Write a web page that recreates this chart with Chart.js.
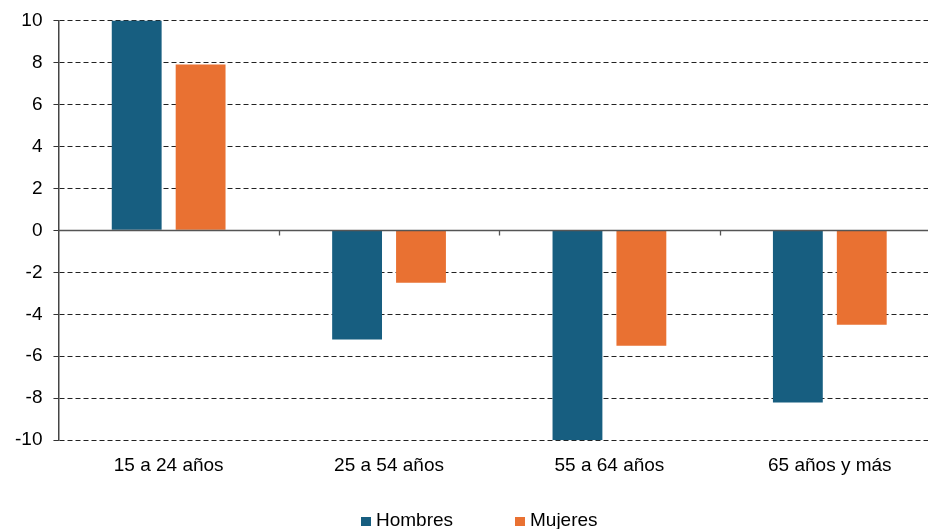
<!DOCTYPE html>
<html>
<head>
<meta charset="utf-8">
<script src="https://cdn.jsdelivr.net/npm/chart.js@4"></script>
<style>
html,body{margin:0;padding:0;background:#fff;overflow:hidden;}
#wrap{width:960px;height:529px;position:relative;}
.lg{position:absolute;font-family:'Liberation Sans',Arial,sans-serif;font-size:19px;line-height:19px;color:#000;white-space:nowrap;}
.sq{position:absolute;width:10px;height:9px;}
</style>
</head>
<body>
<div id="wrap">
  <canvas id="c"></canvas>
  <div id="legend"></div>
</div>
<script>
const categories = ["15 a 24 años", "25 a 54 años", "55 a 64 años", "65 años y más"];
const hombres = [10, -5.2, -10, -8.2];
const mujeres = [7.9, -2.5, -5.5, -4.5];
const yTicks = [-10, -8, -6, -4, -2, 0, 2, 4, 6, 8, 10];
const seriesNames = ["Hombres", "Mujeres"];
const seriesColors = ["#175E80", "#E97132"];

const FONT = "'Liberation Sans', Arial, sans-serif";

// HTML legend
const legendPos = [{sq: 361, tx: 376}, {sq: 515, tx: 530}];
const lg = document.getElementById('legend');
seriesNames.forEach((n, i) => {
  const s = document.createElement('div');
  s.className = 'sq';
  s.style.left = legendPos[i].sq + 'px';
  s.style.top = '517px';
  s.style.background = seriesColors[i];
  lg.appendChild(s);
  const t = document.createElement('div');
  t.className = 'lg';
  t.style.left = legendPos[i].tx + 'px';
  t.style.top = '510px';
  t.textContent = n;
  lg.appendChild(t);
});

const zeroLine = {
  id: 'zeroLine',
  afterDatasetsDraw(chart) {
    const {ctx, chartArea, scales} = chart;
    const y = Math.round(scales.y.getPixelForValue(0)) + 0.5;
    ctx.save();
    ctx.strokeStyle = '#555555';
    ctx.lineWidth = 1.3;
    ctx.beginPath();
    ctx.moveTo(chartArea.left, y);
    ctx.lineTo(chartArea.right, y);
    const xs = scales.x;
    for (let i = 1; i < categories.length; i++) {
      const x = Math.round((xs.getPixelForValue(i - 1) + xs.getPixelForValue(i)) / 2) + 0.5;
      ctx.moveTo(x, y);
      ctx.lineTo(x, y + 5);
    }
    ctx.stroke();
    ctx.restore();
  }
};

new Chart(document.getElementById('c'), {
  type: 'bar',
  data: {
    labels: categories,
    datasets: [
      { label: seriesNames[0], data: hombres, backgroundColor: seriesColors[0], borderWidth: 0,
        categoryPercentage: 0.58, barPercentage: 0.78 },
      { label: seriesNames[1], data: mujeres, backgroundColor: seriesColors[1], borderWidth: 0,
        categoryPercentage: 0.58, barPercentage: 0.78 }
    ]
  },
  options: {
    responsive: true,
    maintainAspectRatio: false,
    animation: false,
    layout: { padding: { top: 0, right: 20, left: 4, bottom: 46 } },
    plugins: {
      legend: { display: false },
      tooltip: { enabled: false }
    },
    scales: {
      x: {
        grid: { display: false },
        border: { display: false },
        ticks: { font: { family: FONT, size: 19 }, color: '#000', padding: 6, maxRotation: 0 }
      },
      y: {
        min: -10, max: 10,
        afterBuildTicks(scale) { scale.ticks = yTicks.map(v => ({ value: v })); },
        grid: { color: '#222', lineWidth: 1, tickLength: 5, tickColor: '#333', tickBorderDash: [] },
        border: { display: true, color: '#444', width: 1.5, dash: [5, 3] },
        ticks: { font: { family: FONT, size: 19, lineHeight: 1.0 }, color: '#000', padding: 11 }
      }
    }
  },
  plugins: [zeroLine]
});
</script>
</body>
</html>
